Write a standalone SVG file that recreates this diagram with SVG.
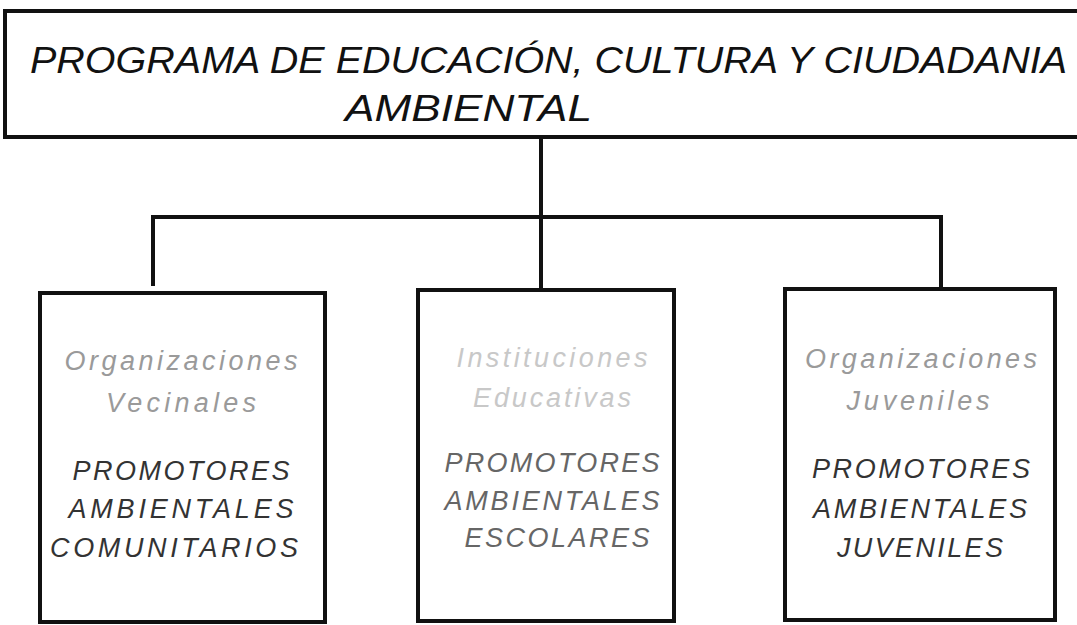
<svg xmlns="http://www.w3.org/2000/svg" width="1077" height="625" viewBox="0 0 1077 625">
<style>
.box{fill:#fff;stroke:#111;stroke-width:4}
.conn{fill:none;stroke:#111;stroke-width:4}
.title{font-family:"Liberation Sans",Arial,sans-serif;font-style:italic;font-size:36px;fill:#111}
.head{font-family:"Liberation Sans",Arial,sans-serif;font-style:italic;font-size:27px;fill:#9a9a9a;text-anchor:middle}
.head2{fill:#c8c8c8}
.sub{font-family:"Liberation Sans",Arial,sans-serif;font-style:italic;font-size:27px;fill:#333;text-anchor:middle}
.sub2{fill:#666}
</style>
<rect width="1077" height="625" fill="#fff"/>
<g id="connectors">
<path class="conn" d="M541,137 V292"/>
<path class="conn" d="M151,217 H943"/>
<path class="conn" d="M153,215 V286"/>
<path class="conn" d="M941,215 V290"/>
</g>
<g id="n-programa">
<rect class="box" x="5" y="11" width="1090" height="126"/>
<text class="title" x="30" y="73" textLength="1037" lengthAdjust="spacingAndGlyphs">PROGRAMA DE EDUCACIÓN, CULTURA Y CIUDADANIA</text>
<text class="title" x="345" y="121" textLength="247" lengthAdjust="spacingAndGlyphs">AMBIENTAL</text>
</g>
<g id="n-vecinales">
<rect class="box" x="40" y="293" width="285" height="329"/>
<text class="head" x="181" y="370" textLength="233" lengthAdjust="spacing">Organizaciones</text>
<text class="head" x="181" y="412" textLength="150" lengthAdjust="spacing">Vecinales</text>
<text class="sub" x="181" y="480" textLength="217" lengthAdjust="spacing">PROMOTORES</text>
<text class="sub" x="181" y="518" textLength="225" lengthAdjust="spacing">AMBIENTALES</text>
<text class="sub" x="174" y="557" textLength="248" lengthAdjust="spacing">COMUNITARIOS</text>
</g>
<g id="n-educativas">
<rect class="box" x="418" y="290" width="256" height="331"/>
<text class="head head2" x="552" y="367" textLength="191" lengthAdjust="spacing">Instituciones</text>
<text class="head head2" x="552" y="407" textLength="158" lengthAdjust="spacing">Educativas</text>
<text class="sub sub2" x="552" y="472" textLength="215" lengthAdjust="spacing">PROMOTORES</text>
<text class="sub sub2" x="552" y="510" textLength="215" lengthAdjust="spacing">AMBIENTALES</text>
<text class="sub sub2" x="557" y="547" textLength="185" lengthAdjust="spacing">ESCOLARES</text>
</g>
<g id="n-juveniles">
<rect class="box" x="785" y="289" width="270" height="331"/>
<text class="head" x="921" y="368" textLength="232" lengthAdjust="spacing">Organizaciones</text>
<text class="head" x="918" y="410" textLength="143" lengthAdjust="spacing">Juveniles</text>
<text class="sub" x="921" y="478" textLength="218" lengthAdjust="spacing">PROMOTORES</text>
<text class="sub" x="920" y="518" textLength="214" lengthAdjust="spacing">AMBIENTALES</text>
<text class="sub" x="920" y="557" textLength="166" lengthAdjust="spacing">JUVENILES</text>
</g>
</svg>
